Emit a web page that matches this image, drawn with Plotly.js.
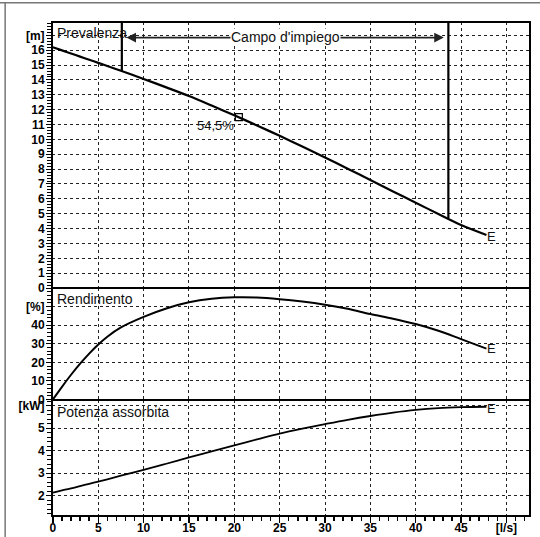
<!DOCTYPE html>
<html>
<head>
<meta charset="utf-8">
<script src="https://cdn.plot.ly/plotly-3.0.1.min.js"></script>
<style>html,body{margin:0;padding:0;background:#fff;}#chart{width:540px;height:537px;}</style>
</head>
<body>
<div id="chart"></div>
<script>
// ---- data ----
var flow = [0, 1, 2, 3, 4, 5, 6, 7.5, 10, 12.5, 15, 17.5, 20, 22.5, 25, 27.5, 30, 32.5, 35, 37.5, 40, 42.5, 45, 47.8];
var head = [16.2, 15.99, 15.78, 15.57, 15.36, 15.15, 14.94, 14.62, 14.07, 13.5, 12.92, 12.28, 11.62, 10.94, 10.24, 9.52, 8.78, 8.03, 7.27, 6.5, 5.74, 4.98, 4.24, 3.57];
var efficiency = [0, 6.8, 13.3, 19.3, 24.7, 29.6, 33.8, 38.8, 44.5, 49, 52.3, 54.2, 55, 54.9, 54, 52.7, 51, 48.8, 46, 43.5, 40.6, 37, 32.5, 27.4];
var power = [2.14, 2.24, 2.33, 2.43, 2.53, 2.63, 2.73, 2.89, 3.15, 3.42, 3.70, 3.97, 4.24, 4.5, 4.76, 4.98, 5.18, 5.37, 5.54, 5.69, 5.81, 5.89, 5.93, 5.95];

var bepFlow = [20.5];
var bepHead = [11.5];
var bepLabel = '54,5%';

var rangeLimitFlow = [7.6, 43.6];
var rangeLimitHead = [14.6, 4.7];
var rangeTopHead = 17.9;
var rangeArrowHead = 16.85;
var rangeLabel = "Campo d'impiego";

var xTickVals = [0, 5, 10, 15, 20, 25, 30, 35, 40, 45, 50];
var xTickText = ['0', '5', '10', '15', '20', '25', '30', '35', '40', '45', '[l/s]'];
var headTickVals = [0, 1, 2, 3, 4, 5, 6, 7, 8, 9, 10, 11, 12, 13, 14, 15, 16, 17];
var headTickText = ['0', '1', '2', '3', '4', '5', '6', '7', '8', '9', '10', '11', '12', '13', '14', '15', '16', '[m]'];
var effTickVals = [0, 10, 20, 30, 40, 50];
var effTickText = ['0', '10', '20', '30', '40', '[%]'];
var powTickVals = [2, 3, 4, 5, 6];
var powTickText = ['2', '3', '4', '5', '[kW]'];

var panelTitles = ['Prevalenza', 'Rendimento', 'Potenza assorbita'];

// ---- styling ----
var FONT = 'Liberation Sans, Arial, sans-serif';
var tickFont = {family: FONT, size: 12, color: '#000', weight: 'bold'};
var gridStyle = {showgrid: true, gridcolor: '#222', gridwidth: 1, griddash: 'dot'};

var traces = [
  {x: flow, y: head, xaxis: 'x', yaxis: 'y', mode: 'lines', line: {color: '#000', width: 2.2, shape: 'spline', smoothing: 0.8}, hoverinfo: 'skip'},
  {x: flow, y: efficiency, xaxis: 'x', yaxis: 'y2', mode: 'lines', line: {color: '#000', width: 2, shape: 'spline'}, hoverinfo: 'skip'},
  {x: flow, y: power, xaxis: 'x', yaxis: 'y3', mode: 'lines', line: {color: '#000', width: 1.8, shape: 'spline'}, hoverinfo: 'skip'},
  {x: bepFlow, y: bepHead, xaxis: 'x', yaxis: 'y', mode: 'markers', marker: {symbol: 'square-open', size: 7, color: '#000', line: {width: 1.2}}, hoverinfo: 'skip'}
];
// limit lines of the operating range
for (var i = 0; i < rangeLimitFlow.length; i++) {
  traces.push({x: [rangeLimitFlow[i], rangeLimitFlow[i]], y: [rangeTopHead, rangeLimitHead[i]], xaxis: 'x', yaxis: 'y',
    mode: 'lines', line: {color: '#000', width: 2.2}, hoverinfo: 'skip'});
}

var dTop = [0.4615, 1], dMid = [0.2348, 0.4615], dBot = [0, 0.2348];

var annotations = [];
// panel titles
var titleY = [0.958, 0.90, 0.895];
var titleRefs = ['y domain', 'y2 domain', 'y3 domain'];
for (var k = 0; k < panelTitles.length; k++) {
  annotations.push({text: panelTitles[k], xref: 'x domain', yref: titleRefs[k], x: 0.006, y: titleY[k],
    xanchor: 'left', yanchor: 'middle', showarrow: false, font: {family: FONT, size: 14, color: '#111'}});
}
// range arrows
var midFlow = (rangeLimitFlow[0] + rangeLimitFlow[1]) / 2;
for (var m = 0; m < rangeLimitFlow.length; m++) {
  annotations.push({text: '', x: rangeLimitFlow[m] + (m === 0 ? 0.5 : -0.5), y: rangeArrowHead, xref: 'x', yref: 'y',
    ax: midFlow, ay: rangeArrowHead, axref: 'x', ayref: 'y', showarrow: true, arrowhead: 2, arrowsize: 1.2,
    arrowwidth: 1.6, arrowcolor: '#222', standoff: 0});
}
annotations.push({text: rangeLabel, x: midFlow, y: rangeArrowHead, xref: 'x', yref: 'y', showarrow: false,
  yshift: 1, bgcolor: '#fff', borderpad: 0, font: {family: FONT, size: 14, color: '#111'}});
// BEP label
annotations.push({text: bepLabel, x: bepFlow[0], y: bepHead[0], xref: 'x', yref: 'y', xanchor: 'right', yanchor: 'middle',
  xshift: -3, yshift: -8, showarrow: false, font: {family: FONT, size: 13, color: '#111'}});
// end-point "E" labels
var ends = [['y', head], ['y2', efficiency], ['y3', power]];
var eShift = [-2, 0, -2];
for (var e = 0; e < ends.length; e++) {
  var arr = ends[e][1];
  annotations.push({text: 'E', x: flow[flow.length - 1], y: arr[arr.length - 1], xref: 'x', yref: ends[e][0],
    xanchor: 'left', yanchor: 'middle', xshift: -1, yshift: eShift[e], showarrow: false,
    font: {family: FONT, size: 13, color: '#111'}});
}

var shapes = [];
var domRefs = ['y domain', 'y2 domain', 'y3 domain'];
for (var s = 0; s < domRefs.length; s++) {
  shapes.push({type: 'rect', xref: 'x domain', yref: domRefs[s], x0: 0, x1: 1, y0: 0, y1: 1,
    line: {color: '#000', width: 2}, layer: 'above'});
}
// scanned page border
shapes.push({type: 'line', xref: 'paper', yref: 'paper', x0: -0.11, x1: 1.03, y0: 1.039, y1: 1.039, line: {color: '#777', width: 1.5}});
shapes.push({type: 'line', xref: 'paper', yref: 'paper', x0: -0.098, x1: -0.098, y0: -0.05, y1: 1.04, line: {color: '#777', width: 1.5}});

function yAxis(domain, range, vals, text, minorStep) {
  return Object.assign({
    domain: domain, range: range, anchor: 'x', tickmode: 'array', tickvals: vals, ticktext: text,
    ticks: 'outside', ticklen: 5, tickwidth: 1, tickcolor: '#000', tickfont: tickFont, ticklabelstandoff: -1,
    showline: false, zeroline: false, fixedrange: true,
    minor: {tickmode: 'linear', tick0: 0, dtick: minorStep, ticks: 'outside', ticklen: 4, tickwidth: 1, tickcolor: '#000', showgrid: false}
  }, gridStyle);
}

var layout = {
  width: 540, height: 537,
  margin: {l: 52, r: 10, t: 22, b: 21},
  paper_bgcolor: '#fff', plot_bgcolor: '#fff',
  showlegend: false,
  xaxis: Object.assign({
    range: [-0.1, 52.6], anchor: 'y3', tickmode: 'array', tickvals: xTickVals, ticktext: xTickText,
    ticks: 'outside', ticklen: 6, tickwidth: 1.5, tickcolor: '#000', tickfont: tickFont, ticklabelstandoff: -5,
    showline: false, zeroline: false, fixedrange: true,
    minor: {tickmode: 'linear', tick0: 0, dtick: 1, ticks: 'outside', ticklen: 4, tickcolor: '#000', showgrid: false}
  }, gridStyle),
  yaxis: yAxis(dTop, [0, 17.9], headTickVals, headTickText, 0.2),
  yaxis2: yAxis(dMid, [-0.3, 60], effTickVals, effTickText, 2),
  yaxis3: yAxis(dBot, [1.1, 6.25], powTickVals, powTickText, 0.2),
  annotations: annotations,
  shapes: shapes
};

Plotly.newPlot('chart', traces, layout, {displayModeBar: false, staticPlot: true});
</script>
</body>
</html>
